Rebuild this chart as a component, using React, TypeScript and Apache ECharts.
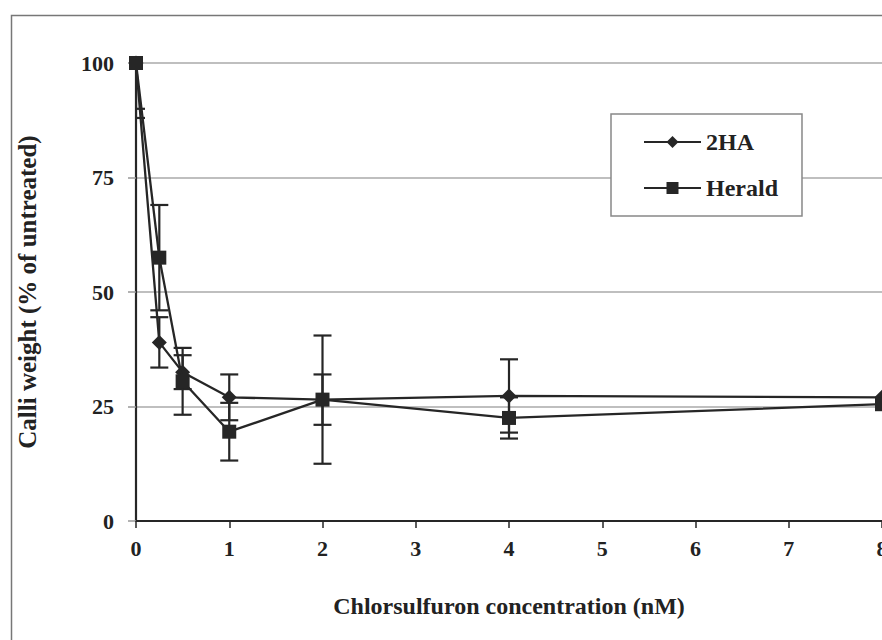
import React, { useEffect, useRef } from "react";
import * as echarts from "echarts";

// Chlorsulfuron concentration (nM)
const conc = [0, 0.25, 0.5, 1, 2, 4, 8];
// Calli weight (% of untreated), mean and error
const ha2 = [100, 39, 32.5, 27, 26.5, 27.3, 27];
const ha2Err = [10, 5.5, 3.7, 5, 5.5, 8, 0];
const herald = [100, 57.5, 30.5, 19.5, 26.5, 22.5, 25.5];
const heraldErr = [12, 11.5, 7.3, 6.3, 14, 4.5, 0];
const seriesNames = ["2HA", "Herald"];

const FONT = "'Liberation Serif', 'Times New Roman', serif";
const INK = "#262626";

function errorBars(name: string, values: number[], errs: number[]) {
  const data = conc.map((x, i) => [x, values[i] - errs[i], values[i] + errs[i]]);
  return {
    type: "custom",
    name: name + " error",
    clip: true,
    z: 3,
    silent: true,
    data,
    encode: { x: 0, y: [1, 2] },
    renderItem: (params: any, api: any) => {
      const x = api.value(0);
      const lo = api.value(1);
      const hi = api.value(2);
      if (hi - lo <= 0) return null;
      const pLo = api.coord([x, lo]);
      const pHi = api.coord([x, hi]);
      const half = 9;
      const style = { stroke: INK, lineWidth: 2.2 };
      return {
        type: "group",
        children: [
          { type: "line", shape: { x1: pLo[0], y1: pLo[1], x2: pHi[0], y2: pHi[1] }, style },
          { type: "line", shape: { x1: pLo[0] - half, y1: pLo[1], x2: pLo[0] + half, y2: pLo[1] }, style },
          { type: "line", shape: { x1: pHi[0] - half, y1: pHi[1], x2: pHi[0] + half, y2: pHi[1] }, style },
        ],
      };
    },
  };
}

export default function App() {
  const ref = useRef<HTMLDivElement>(null);

  useEffect(() => {
    if (!ref.current) return;
    const chart = echarts.init(ref.current, undefined, { renderer: "svg" });
    chart.setOption({
      animation: false,
      backgroundColor: "#fff",
      textStyle: { fontFamily: FONT },
      graphic: [
        {
          type: "rect",
          left: 9,
          top: 13,
          shape: { width: 1000, height: 1000 },
          style: { fill: "none", stroke: "#777", lineWidth: 1.5 },
          z: 0,
        },
      ],
      grid: { left: 136, top: 63, width: 746, height: 458, show: false },
      legend: {
        orient: "vertical",
        left: 611,
        top: 114,
        padding: [16, 24, 16, 32],
        itemGap: 22,
        itemWidth: 57,
        itemHeight: 15,
        itemTextGap: 6,
        backgroundColor: "#fff",
        borderColor: "#888",
        borderWidth: 1.5,
        data: seriesNames,
        textStyle: { fontFamily: FONT, fontWeight: "bold", fontSize: 24, color: "#222" },
      },
      xAxis: {
        type: "value",
        min: 0,
        max: 8,
        interval: 1,
        name: "Chlorsulfuron concentration (nM)",
        nameLocation: "middle",
        nameGap: 73,
        nameTextStyle: { fontFamily: FONT, fontWeight: "bold", fontSize: 24, color: "#222" },
        axisLine: { lineStyle: { color: INK, width: 2.2 } },
        axisTick: { length: 7, lineStyle: { color: INK, width: 1.5 } },
        axisLabel: { margin: 16, fontFamily: FONT, fontWeight: "bold", fontSize: 22, color: "#222" },
        splitLine: { show: false },
      },
      yAxis: {
        type: "value",
        min: 0,
        max: 100,
        interval: 25,
        name: "Calli weight (% of untreated)",
        nameLocation: "middle",
        nameGap: 96,
        nameTextStyle: { fontFamily: FONT, fontWeight: "bold", fontSize: 25, color: "#222" },
        axisLine: { show: true, lineStyle: { color: INK, width: 2.2 } },
        axisTick: { show: true, length: 8, lineStyle: { color: "#999", width: 1.5 } },
        axisLabel: { margin: 22, fontFamily: FONT, fontWeight: "bold", fontSize: 22, color: "#222" },
        splitLine: { lineStyle: { color: "#aaa", width: 1.5 } },
      },
      series: [
        errorBars(seriesNames[0], ha2, ha2Err),
        errorBars(seriesNames[1], herald, heraldErr),
        {
          type: "line",
          name: seriesNames[0],
          data: conc.map((x, i) => [x, ha2[i]]),
          symbol: "diamond",
          symbolSize: 15,
          lineStyle: { color: INK, width: 2.3 },
          itemStyle: { color: INK },
          z: 4,
        },
        {
          type: "line",
          name: seriesNames[1],
          data: conc.map((x, i) => [x, herald[i]]),
          symbol: "rect",
          symbolSize: 14,
          lineStyle: { color: INK, width: 2.3 },
          itemStyle: { color: INK },
          z: 5,
        },
      ],
    });
    return () => chart.dispose();
  }, []);

  return (
    <div style={{ position: "fixed", left: 0, top: 0, width: 882, height: 640, overflow: "hidden", background: "#fff" }}>
      <div ref={ref} style={{ position: "absolute", left: 0, top: 0, width: 920, height: 680 }} />
    </div>
  );
}
